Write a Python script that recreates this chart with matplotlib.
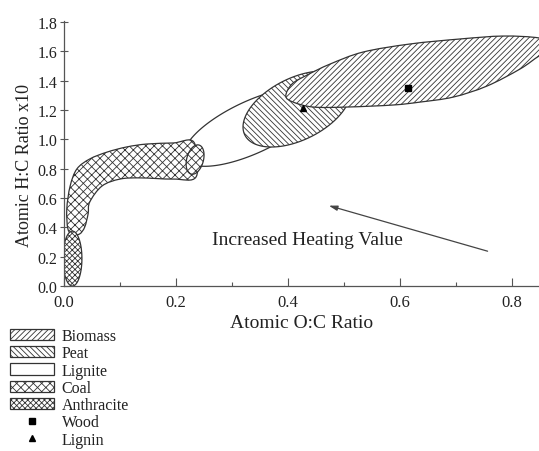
import numpy as np
import matplotlib
matplotlib.use("Agg")
import matplotlib.pyplot as plt
from matplotlib.patches import Polygon, Patch, PathPatch
from matplotlib.path import Path
from matplotlib.lines import Line2D

plt.rcParams['font.family'] = ['Liberation Serif', 'DejaVu Serif']
plt.rcParams['hatch.linewidth'] = 0.6
plt.rcParams['hatch.color'] = '#444444'

# ---- data ----
# biomass outline (O:C, H:C), traced round the region
biomass_x = [0.396, 0.407, 0.434, 0.475, 0.534, 0.618, 0.707, 0.784, 0.848, 0.873,
             0.868, 0.848, 0.814, 0.755, 0.695, 0.636, 0.588, 0.505, 0.445, 0.409]
biomass_y = [1.295, 1.377, 1.438, 1.513, 1.595, 1.650, 1.684, 1.704, 1.691, 1.650,
             1.602, 1.568, 1.479, 1.363, 1.288, 1.254, 1.234, 1.220, 1.220, 1.254]

# ellipses: (center x, center y, half-extent x, half-extent y, correlation)
peat = (0.416, 1.2066, 0.0964, 0.259, 0.474)
lignite = (0.336, 1.084, 0.122, 0.268, 0.694)
coal_cap = (0.234, 0.862, 0.016, 0.100, 0.30)
anthracite = (0.015, 0.187, 0.017, 0.187, 0.0)

# coal band outline (O:C, H:C)
coal_x = [0.007, 0.005, 0.011, 0.023, 0.046, 0.077, 0.112, 0.148, 0.195, 0.232,
          0.236, 0.195, 0.136, 0.100, 0.068, 0.046, 0.043, 0.037, 0.028, 0.016]
coal_y = [0.389, 0.525, 0.682, 0.798, 0.866, 0.913, 0.948, 0.968, 0.975, 0.980,
          0.745, 0.729, 0.737, 0.729, 0.682, 0.573, 0.491, 0.402, 0.355, 0.352]

wood_x, wood_y = [0.614], [1.352]
lignin_x, lignin_y = [0.427], [1.213]

arrow_tail = (0.761, 0.232)
arrow_head = (0.468, 0.553)

xticks = [0.0, 0.2, 0.4, 0.6, 0.8]
yticks = [0.0, 0.2, 0.4, 0.6, 0.8, 1.0, 1.2, 1.4, 1.6, 1.8]

legend_labels = ['Biomass', 'Peat', 'Lignite', 'Coal', 'Anthracite', 'Wood', 'Lignin']

# ---- figure ----
EC = '#333333'
TC = '#222222'
fig = plt.figure(figsize=(5.39, 4.52), dpi=100)
ax = fig.add_axes([64 / 539, 1 - 287 / 452, 1 - 64 / 539, 265.5 / 452])
ax.set_xlim(0, 0.848)
ax.set_ylim(0, 1.81)


def ellipse_pts(e, n=240):
    cx, cy, rx, ry, rho = e
    t = np.linspace(0, 2 * np.pi, n)
    x = cx + rx * np.cos(t)
    y = cy + ry * (rho * np.cos(t) + np.sqrt(1 - rho ** 2) * np.sin(t))
    return np.column_stack([x, y])


def smooth_closed_path(xs, ys):
    # closed Catmull-Rom curve through the traced points, as Bezier segments
    p = np.column_stack([xs, ys])
    n = len(p)
    verts = [p[0]]
    codes = [Path.MOVETO]
    for i in range(n):
        p0, p1, p2, p3 = p[i - 1], p[i], p[(i + 1) % n], p[(i + 2) % n]
        c1 = p1 + (p2 - p0) / 6.0
        c2 = p2 - (p3 - p1) / 6.0
        verts += [c1, c2, p2]
        codes += [Path.CURVE4] * 3
    verts.append(p[0])
    codes.append(Path.CLOSEPOLY)
    return Path(verts, codes)


def add_shape(pts, hatch, z):
    ax.add_patch(Polygon(pts, closed=True, facecolor='white', edgecolor=EC,
                         hatch=hatch, lw=0.9, zorder=z))


add_shape(ellipse_pts(lignite), None, 1)
ax.add_patch(PathPatch(smooth_closed_path(coal_x, coal_y), facecolor='white',
                       edgecolor=EC, hatch='xxxx', lw=0.9, zorder=2))
add_shape(ellipse_pts(coal_cap), 'xxxx', 3)
add_shape(ellipse_pts(anthracite), 'xxxxxx', 2)
add_shape(ellipse_pts(peat), '\\\\\\\\\\\\', 4)
ax.add_patch(PathPatch(smooth_closed_path(biomass_x, biomass_y), facecolor='white',
                       edgecolor=EC, hatch='//////', lw=0.9, zorder=5))

ax.plot(wood_x, wood_y, 's', color='black', ms=5, zorder=6)
ax.plot(lignin_x, lignin_y, '^', color='black', ms=4.5, zorder=6)

ax.annotate('', xy=arrow_head, xytext=arrow_tail,
            arrowprops=dict(arrowstyle='-|>,head_length=0.5,head_width=0.15',
                            color='#444444', lw=0.9), zorder=6)
ax.text(0.264, 0.32, 'Increased Heating Value', fontsize=14, color=TC,
        ha='left', va='center')

for s in ['top', 'right']:
    ax.spines[s].set_visible(False)
for s in ['left', 'bottom']:
    ax.spines[s].set_color('#555555')
    ax.spines[s].set_linewidth(0.9)

ax.set_xticks(xticks)
ax.set_xticklabels([f'{v:.1f}' for v in xticks])
ax.set_xticks([0.1, 0.3, 0.5, 0.7], minor=True)
ax.set_yticks(yticks)
ax.set_yticklabels([f'{v:.1f}' for v in yticks])
ax.tick_params(axis='x', which='major', direction='in', length=6, width=0.8,
               colors='#555555', labelcolor=TC, labelsize=12, pad=5.5)
ax.tick_params(axis='x', which='minor', direction='in', length=3, width=0.8,
               colors='#555555')
ax.tick_params(axis='y', which='major', direction='inout', length=6, width=0.8,
               colors='#555555', labelcolor=TC, labelsize=11.5, pad=2)

ax.set_xlabel('Atomic O:C Ratio', fontsize=14, color=TC, labelpad=3)
ax.set_ylabel('Atomic H:C Ratio x10', fontsize=13, color=TC)
ax.yaxis.set_label_coords(-0.066, 0.458)

handles = [
    Patch(facecolor='white', edgecolor=EC, hatch='//////', lw=0.9),
    Patch(facecolor='white', edgecolor=EC, hatch='\\\\\\\\\\\\', lw=0.9),
    Patch(facecolor='white', edgecolor=EC, lw=0.9),
    Patch(facecolor='white', edgecolor=EC, hatch='xxxx', lw=0.9),
    Patch(facecolor='white', edgecolor=EC, hatch='xxxxxx', lw=0.9),
    Line2D([], [], ls='none', marker='s', color='black', ms=5),
    Line2D([], [], ls='none', marker='^', color='black', ms=5),
]
leg = fig.legend(handles, legend_labels, loc='upper left',
                 bbox_to_anchor=(0.018, 1 - 329 / 452), frameon=False,
                 fontsize=11.5, handlelength=2.75, handleheight=0.7,
                 handletextpad=0.5, labelspacing=0.08, borderpad=0,
                 borderaxespad=0)
for t in leg.get_texts():
    t.set_color(TC)

fig.savefig('out.png', dpi=100)
